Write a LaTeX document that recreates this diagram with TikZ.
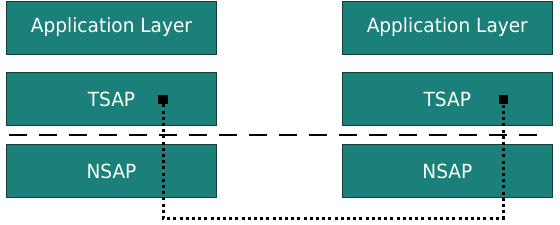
\documentclass[tikz,border=0pt]{standalone}
\usepackage{fontspec}
\setmainfont{DejaVu Sans}[FakeStretch=0.95]
\usetikzlibrary{positioning}
\definecolor{layerTeal}{HTML}{1A8079}
\definecolor{layerEdge}{HTML}{123E3B}

\begin{document}
\begin{tikzpicture}[x=1pt,y=-1pt,font=\fontsize{19.5}{22}\selectfont,
   layer/.style={draw=layerEdge,fill=layerTeal,line width=0.8pt,text=white,
                 minimum width=210pt,minimum height=53pt,inner sep=0pt},
   port/.style={fill=black,minimum size=9.5pt,inner sep=0pt},
   link/.style={line width=3pt,dash pattern=on 3pt off 3.2pt},
   split/.style={line width=1.3pt,dash pattern=on 18pt off 12pt}]
  \useasboundingbox (0,0) rectangle (560,225);
  % left stack
  \node[layer] (appL) at (111.5,27.5) {Application Layer};
  \node[layer,below=18pt of appL] (tsapL) {TSAP};
  \node[layer,below=18pt of tsapL] (nsapL) {NSAP};
  % right stack
  \node[layer,right=125pt of appL] (appR) {Application Layer};
  \node[layer,below=18pt of appR] (tsapR) {TSAP};
  \node[layer,below=18pt of tsapR] (nsapR) {NSAP};
  % boundary between the layers
  \coordinate (splitL) at (9,135);
  \coordinate (splitR) at (541,135);
  \draw[split] (splitL) -- (splitR);
  % transport connection
  \node[port] (portL) at (163,99.5) {};
  \node[port] (portR) at (503.5,99.5) {};
  \coordinate (route) at (163,218);
  \draw[link] (portL) -- (route) -| (portR);
\end{tikzpicture}
\end{document}
